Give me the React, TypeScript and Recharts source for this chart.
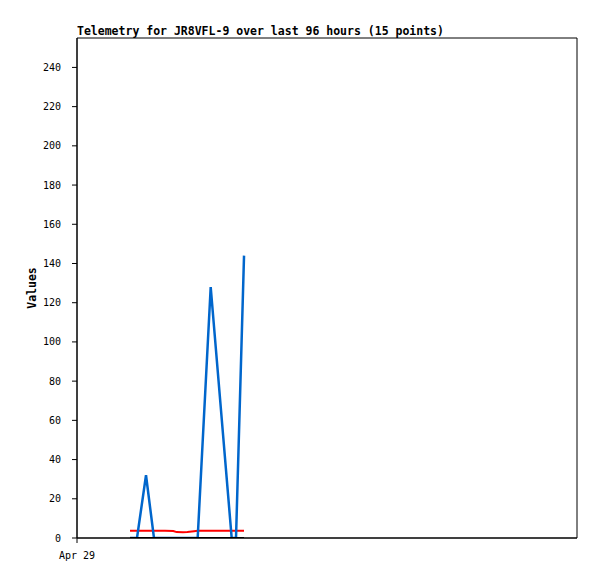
import { LineChart, Line, XAxis, YAxis, ReferenceArea, Label } from 'recharts';

// hours since Apr 29 00:00
const hours = [10.18, 11.52, 13.25, 14.78, 16.9, 18.49, 19.14, 20.35, 21.18, 22.46, 23.17, 25.67, 29.7, 30.53, 32.07];
const blueValues = [0, 0, 32, 0, 0, 0, 0, 0, 0, 0, 0, 128, 0, 0, 144];
const redValues = [3.7, 3.7, 3.7, 3.7, 3.7, 3.6, 3.0, 2.9, 3.1, 3.5, 3.7, 3.7, 3.7, 3.7, 3.7];
const blackValues = [0, 0, 0, 0, 0, 0, 0, 0, 0, 0, 0, 0, 0, 0, 0];

const yTicks = [0, 20, 40, 60, 80, 100, 120, 140, 160, 180, 200, 220, 240];
const xTicks = [0];
const xTickLabels = ['Apr 29'];

const data = hours.map((h, i) => ({
  t: h,
  blue: blueValues[i],
  red: redValues[i],
  black: blackValues[i],
}));

const font = '"DejaVu Sans Mono", monospace';

const App = () => {
  return (
    <div style={{ position: 'absolute', left: 0, top: 0, width: 597, height: 579, background: '#fff' }}>
      <div
        style={{
          position: 'absolute',
          left: 77,
          top: 24,
          fontFamily: font,
          fontSize: 11.5,
          fontWeight: 'bold',
          lineHeight: '14px',
          whiteSpace: 'nowrap',
        }}
      >
        Telemetry for JR8VFL-9 over last 96 hours (15 points)
      </div>
      <LineChart width={597} height={579} data={data} margin={{ top: 38, right: 20, bottom: 11, left: 0 }}>
        <XAxis
          dataKey="t"
          type="number"
          domain={[0, 96]}
          ticks={xTicks}
          tickFormatter={(v: number) => xTickLabels[xTicks.indexOf(v)] ?? ''}
          height={30}
          tickSize={5}
          tickMargin={9}
          stroke="#000"
          tick={{ fill: '#000', fontFamily: font, fontSize: 10 }}
          allowDataOverflow
        />
        <YAxis
          type="number"
          domain={[0, 255]}
          ticks={yTicks}
          width={77}
          tickSize={5}
          tickMargin={11}
          stroke="#000"
          tick={{ fill: '#000', fontFamily: font, fontSize: 10 }}
          allowDataOverflow
        >
          <Label
            value="Values"
            angle={-90}
            position="insideLeft"
            offset={32}
            style={{ fontFamily: font, fontSize: 11.5, fontWeight: 'bold', fill: '#000', textAnchor: 'middle' }}
          />
        </YAxis>
        <ReferenceArea x1={0} x2={96} y1={0} y2={255} fill="none" stroke="#000" strokeWidth={1} fillOpacity={0} />
        <Line type="linear" dataKey="red" stroke="#ff0000" strokeWidth={2} dot={false} isAnimationActive={false} />
        <Line type="linear" dataKey="blue" stroke="#0066cc" strokeWidth={2.5} dot={false} isAnimationActive={false} />
        <Line type="linear" dataKey="black" stroke="#000" strokeWidth={2} dot={false} isAnimationActive={false} />
      </LineChart>
    </div>
  );
};

export default App;
